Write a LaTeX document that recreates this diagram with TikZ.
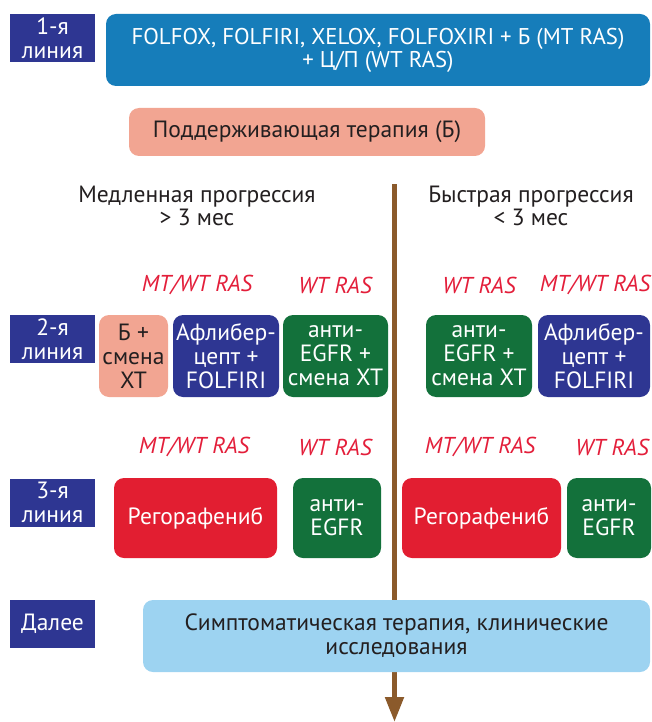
\documentclass[tikz,border=0pt]{standalone}
\usepackage{fontspec}
\setmainfont{PT Sans}
\usetikzlibrary{arrows.meta}
\definecolor{navy}{RGB}{46,54,146}
\definecolor{bluebox}{RGB}{22,125,186}
\definecolor{pinkbox}{RGB}{242,165,146}
\definecolor{greenbox}{RGB}{19,113,59}
\definecolor{redbox}{RGB}{226,30,49}
\definecolor{lightblue}{RGB}{157,211,241}
\definecolor{brownarr}{RGB}{139,90,43}
\definecolor{redtext}{RGB}{227,30,58}
\definecolor{darktext}{RGB}{35,31,32}
\begin{document}
\begin{tikzpicture}[x=1pt,y=-1pt,
  txt/.style={font=\fontsize{23.5}{24}\selectfont},
  lab/.style={txt, fill=navy, text=white, minimum width=85pt, minimum height=48pt, inner sep=0pt, align=center},
  box/.style={txt, rounded corners=10pt, inner sep=0pt, align=center, text=white},
  rlab/.style={text=redtext, font=\fontsize{23}{24}\selectfont\itshape, inner sep=0pt},
  head/.style={text=darktext, align=center, inner sep=0pt, font=\fontsize{23.5}{23}\selectfont}]
\useasboundingbox (0,0) rectangle (651,722);
% arrow
\coordinate (atop) at (394.5,184);
\coordinate (abot) at (394.5,722);
\draw[brownarr, line width=5pt, -{Triangle[length=25pt,width=18pt]}] (atop) -- (abot);
% line labels
\node[lab] (l1) at (52.5,38.5) {1-я\\линия};
\node[lab] (l2) at (52.5,339) {2-я\\линия};
\node[lab] (l3) at (52.5,502.5) {3-я\\линия};
\node[lab] (l4) at (52.5,624) {Далее};
% first line
\node[box, fill=bluebox, minimum width=544pt, minimum height=72pt, font=\fontsize{22.8}{23}\selectfont] (b1) at (378,50)
  {FOLFOX, FOLFIRI, XELOX, FOLFOXIRI + Б (MT RAS)\\+ Ц/П (WT RAS)};
\node[box, fill=pinkbox, text=darktext, minimum width=356pt, minimum height=48pt] (maint) at (307,132)
  {Поддерживающая терапия (Б)};
% headings
\node[head] (slow) at (197,206) {Медленная прогрессия\\> 3 мес};
\node[head] (fast) at (531,206) {Быстрая прогрессия\\< 3 мес};
% RAS labels row 2
\node[rlab] (m2a) at (197,285) {MT/WT RAS};
\node[rlab] (m2b) at (335,285) {WT RAS};
\node[rlab] (m2c) at (479,285) {WT RAS};
\node[rlab] (m2d) at (595,285) {MT/WT RAS};
% row 2
\node[box, fill=pinkbox, text=darktext, minimum width=69pt, minimum height=82pt] (r2a) at (133.5,356) {Б +\\смена\\ХТ};
\node[box, fill=navy, minimum width=106pt, minimum height=82pt] (r2b) at (226,356) {Афлибер-\\цепт +\\FOLFIRI};
\node[box, fill=greenbox, minimum width=105pt, minimum height=82pt] (r2c) at (335.5,356) {анти-\\EGFR +\\смена ХТ};
\node[box, fill=greenbox, minimum width=106pt, minimum height=82pt] (r2d) at (479,356) {анти-\\EGFR +\\смена ХТ};
\node[box, fill=navy, minimum width=112pt, minimum height=82pt] (r2e) at (594,356) {Афлибер-\\цепт +\\FOLFIRI};
% RAS labels row 3
\node[rlab] (m3a) at (194,447) {MT/WT RAS};
\node[rlab] (m3b) at (335,447) {WT RAS};
\node[rlab] (m3c) at (480,447) {MT/WT RAS};
\node[rlab] (m3d) at (612,447) {WT RAS};
% row 3
\node[box, fill=redbox, minimum width=163pt, minimum height=80pt] (r3a) at (195.5,518) {Регорафениб};
\node[box, fill=greenbox, minimum width=88pt, minimum height=80pt] (r3b) at (337,518) {анти-\\EGFR};
\node[box, fill=redbox, minimum width=159pt, minimum height=80pt] (r3c) at (481.5,518) {Регорафениб};
\node[box, fill=greenbox, minimum width=84pt, minimum height=80pt] (r3d) at (609,518) {анти-\\EGFR};
% further
\node[box, fill=lightblue, text=darktext, minimum width=507pt, minimum height=72pt] (sym) at (396.5,636)
  {Симптоматическая терапия, клинические\\исследования};
\end{tikzpicture}
\end{document}
